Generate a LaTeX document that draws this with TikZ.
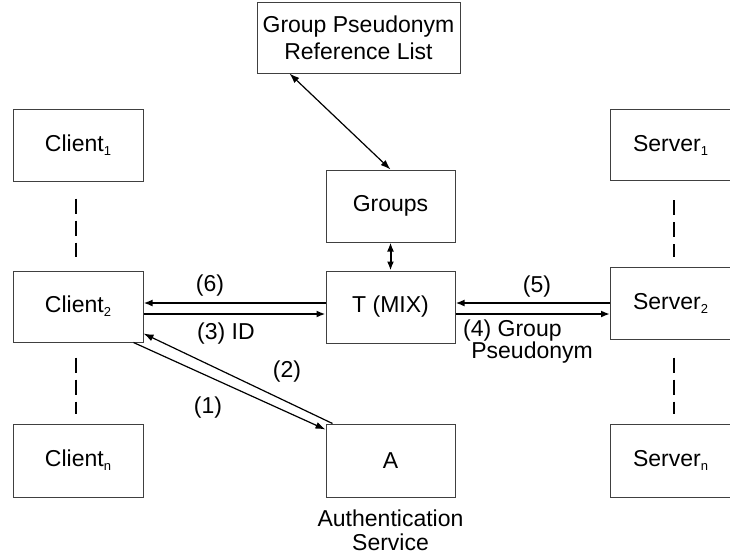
\documentclass[tikz,border=0pt]{standalone}
\usepackage{fontspec}
\setmainfont{Liberation Sans}
\usetikzlibrary{arrows.meta,calc}
\tikzset{
  box/.style={draw=black!75, line width=1pt, minimum width=129pt, minimum height=72pt, inner sep=0pt, align=center, font=\fontsize{23}{27}\selectfont},
  lbl/.style={font=\fontsize{23}{24}\selectfont, inner sep=0pt, align=center},
  thickarrow/.style={line width=2pt, -{Latex[length=9pt,width=7pt]}},
  thinarrow/.style={line width=1.2pt, -{Latex[length=10pt,width=7pt]}},
  dots/.style={line width=2.5pt, dash pattern=on 15pt off 7pt}
}
\newcommand{\sbs}[1]{\raisebox{-4pt}{\fontsize{13}{13}\selectfont #1}}
\begin{document}
\begin{tikzpicture}[x=1pt,y=-1pt]
\useasboundingbox (0,0) rectangle (730,558);
% boxes
\node[box, minimum width=203pt, minimum height=71pt] (gprl) at (358.5,37.5) {Group Pseudonym\\Reference List};
\node[box, minimum width=130pt] (c1) at (78,145) {Client\sbs{1}};
\node[box, minimum width=130pt, minimum height=71pt] (c2) at (78,306.5) {Client\sbs{2}};
\node[box, minimum width=130pt, minimum height=73pt] (cn) at (78,460.5) {Client\sbs{n}};
\node[box] (groups) at (390.5,206) {Groups};
\node[box] (t) at (390.5,307) {T (MIX)};
\node[box, minimum height=73pt] (a) at (390.5,460.5) {A};
\node[box, minimum width=120pt, minimum height=71pt] (s1) at (670.5,145) {Server\sbs{1}};
\node[box, minimum width=120pt] (s2) at (670.5,303) {Server\sbs{2}};
\node[box, minimum width=120pt, minimum height=73pt] (sn) at (670.5,460.5) {Server\sbs{n}};
% dashed continuation lines
\draw[dots] ([xshift=-2pt,yshift=-17pt]c1.south) -- ([xshift=-2pt,yshift=14pt]c2.north);
\draw[dots] ([xshift=-2pt,yshift=-15pt]c2.south) -- ([xshift=-2pt,yshift=10pt]cn.north);
\draw[dots] ([xshift=3.5pt,yshift=-19pt]s1.south) -- ([xshift=3.5pt,yshift=10pt]s2.north);
\draw[dots] ([xshift=3.5pt,yshift=-18pt]s2.south) -- ([xshift=3.5pt,yshift=10pt]sn.north);
% connectors
\draw[thinarrow, {Latex[length=10pt,width=7pt]}-{Latex[length=10pt,width=7pt]}] ([xshift=33pt]gprl.south west) -- (groups.north);
\draw[thickarrow, {Latex[length=9pt,width=7pt]}-{Latex[length=9pt,width=7pt]}] (groups.south) -- (t.north);
\draw[thickarrow] ([yshift=4pt]t.west) -- ([yshift=4pt]t.west -| c2.east);
\draw[thickarrow] ([yshift=-7pt]t.west -| c2.east) -- ([yshift=-7pt]t.west);
\draw[thickarrow] ([yshift=4pt]t.east -| s2.west) -- ([yshift=4pt]t.east);
\draw[thickarrow] ([yshift=-7pt]t.east) -- ([yshift=-7pt]t.east -| s2.west);
\draw[thinarrow] ([xshift=7pt]a.north west) -- ([yshift=9pt]c2.south east);
\draw[thinarrow] ([xshift=-10pt]c2.south east) -- ([yshift=-6pt]a.north west);
% labels
\node[lbl, anchor=base] (l6) at (210,291) {(6)};
\node[lbl, anchor=base west] (l3) at (197,339) {(3) ID};
\node[lbl, anchor=base] (l5) at (537,292) {(5)};
\node[lbl, anchor=base west] (l4) at (463,336) {(4) Group};
\node[lbl, anchor=base east] (l4b) at (593,358) {Pseudonym};
\node[lbl] (l2) at (287,372) {(2)};
\node[lbl] (l1) at (208,408) {(1)};
\node[lbl, anchor=north] (auth) at (390.5,510) {Authentication\\Service};
\end{tikzpicture}
\end{document}
